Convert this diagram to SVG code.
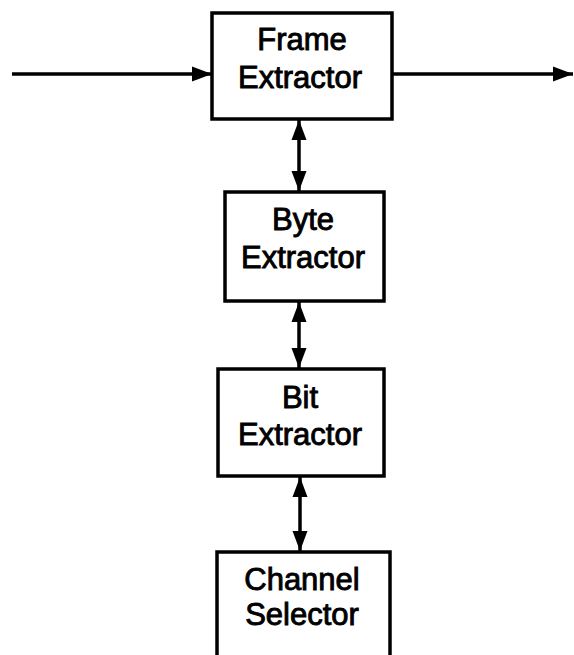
<svg xmlns="http://www.w3.org/2000/svg" width="574" height="655" viewBox="0 0 574 655">
  <style>
    .box { fill: #fff; stroke: #000; stroke-width: 3.5; }
    .lbl { font-family: "Liberation Sans", Arial, sans-serif; font-size: 31px; fill: #000; stroke: #000; stroke-width: 0.9; text-anchor: middle; }
    .wire { stroke: #000; stroke-width: 3.5; fill: none; }
  </style>
  <defs>
    <marker id="head" markerUnits="userSpaceOnUse" markerWidth="22" markerHeight="16" refX="20" refY="8" orient="auto-start-reverse">
      <path d="M0,0.5 L20,8 L0,15.5 Z" fill="#000"/>
    </marker>
  </defs>
  <rect width="574" height="655" fill="#fff"/>

  <g id="connectors">
    <line class="wire" x1="12" y1="74" x2="212" y2="74" marker-end="url(#head)"/>
    <line class="wire" x1="392" y1="74" x2="573" y2="74" marker-end="url(#head)"/>
    <line class="wire" x1="299" y1="120" x2="299" y2="191" marker-start="url(#head)" marker-end="url(#head)"/>
    <line class="wire" x1="299" y1="302" x2="299" y2="368" marker-start="url(#head)" marker-end="url(#head)"/>
    <line class="wire" x1="300" y1="477" x2="300" y2="551" marker-start="url(#head)" marker-end="url(#head)"/>
  </g>

  <g id="frame-extractor">
    <rect class="box" x="212" y="13" width="180" height="106"/>
    <text class="lbl" x="302" y="50">Frame</text>
    <text class="lbl" x="300" y="88">Extractor</text>
  </g>

  <g id="byte-extractor">
    <rect class="box" x="225" y="192" width="159" height="109"/>
    <text class="lbl" x="303" y="230">Byte</text>
    <text class="lbl" x="303" y="268">Extractor</text>
  </g>

  <g id="bit-extractor">
    <rect class="box" x="218" y="369" width="166" height="107"/>
    <text class="lbl" x="300" y="408">Bit</text>
    <text class="lbl" x="300" y="445">Extractor</text>
  </g>

  <g id="channel-selector">
    <rect class="box" x="217" y="552" width="173" height="120"/>
    <text class="lbl" x="302" y="590">Channel</text>
    <text class="lbl" x="302" y="625">Selector</text>
  </g>
</svg>
